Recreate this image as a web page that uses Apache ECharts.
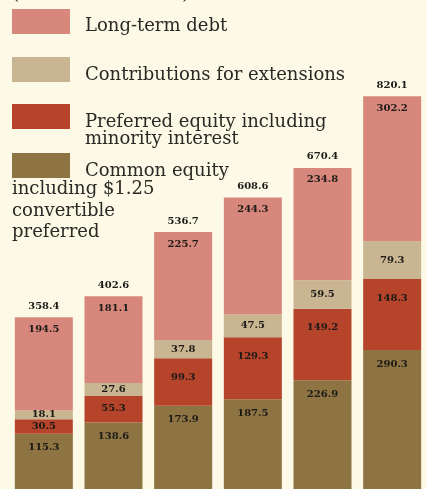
<!DOCTYPE html>
<html>
<head>
<meta charset="utf-8">
<script src="https://cdn.jsdelivr.net/npm/echarts@6/dist/echarts.min.js"></script>
<style>
html,body{margin:0;padding:0;background:#fcfae6;}
#chart{width:427px;height:489px;}
</style>
</head>
<body>
<div id="chart"></div>
<script>
// ---- data ----
var categories = ['1', '2', '3', '4', '5', '6'];
var commonEquity = [115.3, 138.6, 173.9, 187.5, 226.9, 290.3];
var preferredEquity = [30.5, 55.3, 99.3, 129.3, 149.2, 148.3];
var contributions = [18.1, 27.6, 37.8, 47.5, 59.5, 79.3];
var longTermDebt = [194.5, 181.1, 225.7, 244.3, 234.8, 302.2];
var totals = [358.4, 402.6, 536.7, 608.6, 670.4, 820.1];

var seriesNames = [
  'Long-term debt',
  'Contributions for extensions',
  'Preferred equity including minority interest',
  'Common equity including $1.25 convertible preferred'
];

// ---- styling ----
var C_DEBT = '#d8877c';
var C_CONTR = '#cab592';
var C_PREF = '#b5442b';
var C_COMMON = '#8e7442';
var BG = '#fcfae6';
var TXT = '#2a2925';
var PX_PER_UNIT = 0.48; // grid height 480 / axis max 1000
var LEGEND_FONT = '18px "DejaVu Serif"';

var labelFont = {fontFamily: 'DejaVu Serif', fontWeight: 'bold', fontSize: 10, color: '#1c1a16'};

function items(arr, pos, maxDist) {
  return arr.map(function (v) {
    var h = v * PX_PER_UNIT;
    var d = Math.min(maxDist, Math.max(0, (h - 11) / 2));
    return {value: v, label: {position: pos, distance: d}};
  });
}

function stackSeries(name, data, color, pos, dist, z) {
  return {
    name: name,
    type: 'bar',
    stack: 'cap',
    barWidth: 58,
    barGap: '-100%',
    data: pos === 'inside' ? data : items(data, pos, dist),
    itemStyle: {color: color},
    label: Object.assign({show: true, position: pos, distance: dist}, labelFont),
    emphasis: {disabled: true},
    z: z
  };
}

var legendRows = [
  {y: 9, color: C_DEBT, lines: [{t: 'Long-term debt', x: 85, b: 32}]},
  {y: 57, color: C_CONTR, lines: [{t: 'Contributions for extensions', x: 85, b: 81}]},
  {y: 104, color: C_PREF, lines: [{t: 'Preferred equity including', x: 85, b: 128}, {t: 'minority interest', x: 85, b: 145}]},
  {y: 153, color: C_COMMON, lines: [{t: 'Common equity', x: 85, b: 177}, {t: 'including $1.25', x: 12, b: 195}, {t: 'convertible', x: 12, b: 217}, {t: 'preferred', x: 12, b: 238}]}
];
var graphics = [];
graphics.push({type: 'text', left: 12, top: -15, z: 100,
  style: {text: '(millions of dollars)', font: LEGEND_FONT, fill: TXT}});
legendRows.forEach(function (r) {
  graphics.push({type: 'rect', shape: {x: 12, y: r.y, width: 58, height: 25}, style: {fill: r.color}, z: 100});
  r.lines.forEach(function (l) {
    graphics.push({type: 'text', x: l.x, y: l.b - 6, z: 101,
      style: {text: l.t, font: LEGEND_FONT, fill: TXT, verticalAlign: 'middle', align: 'left'}});
  });
});

var chart = echarts.init(document.getElementById('chart'), null, {renderer: 'canvas'});
chart.setOption({
  backgroundColor: BG,
  animation: false,
  grid: {left: 9, width: 423, top: 10, bottom: -1, containLabel: false},
  xAxis: {type: 'category', data: categories, show: false},
  yAxis: {type: 'value', min: 0, max: 1000, show: false},
  graphic: graphics,
  series: [
    stackSeries(seriesNames[3], commonEquity, C_COMMON, 'insideTop', 9, 3),
    stackSeries(seriesNames[2], preferredEquity, C_PREF, 'insideTop', 14, 3),
    stackSeries(seriesNames[1], contributions, C_CONTR, 'inside', 0, 3),
    stackSeries(seriesNames[0], longTermDebt, C_DEBT, 'insideTop', 7, 3),
    {
      name: 'Total',
      type: 'bar',
      barWidth: 58,
      barGap: '-100%',
      data: totals,
      itemStyle: {color: 'rgba(0,0,0,0)'},
      label: Object.assign({show: true, position: 'top', distance: 6}, labelFont),
      silent: true,
      z: 1
    }
  ]
});
</script>
</body>
</html>
